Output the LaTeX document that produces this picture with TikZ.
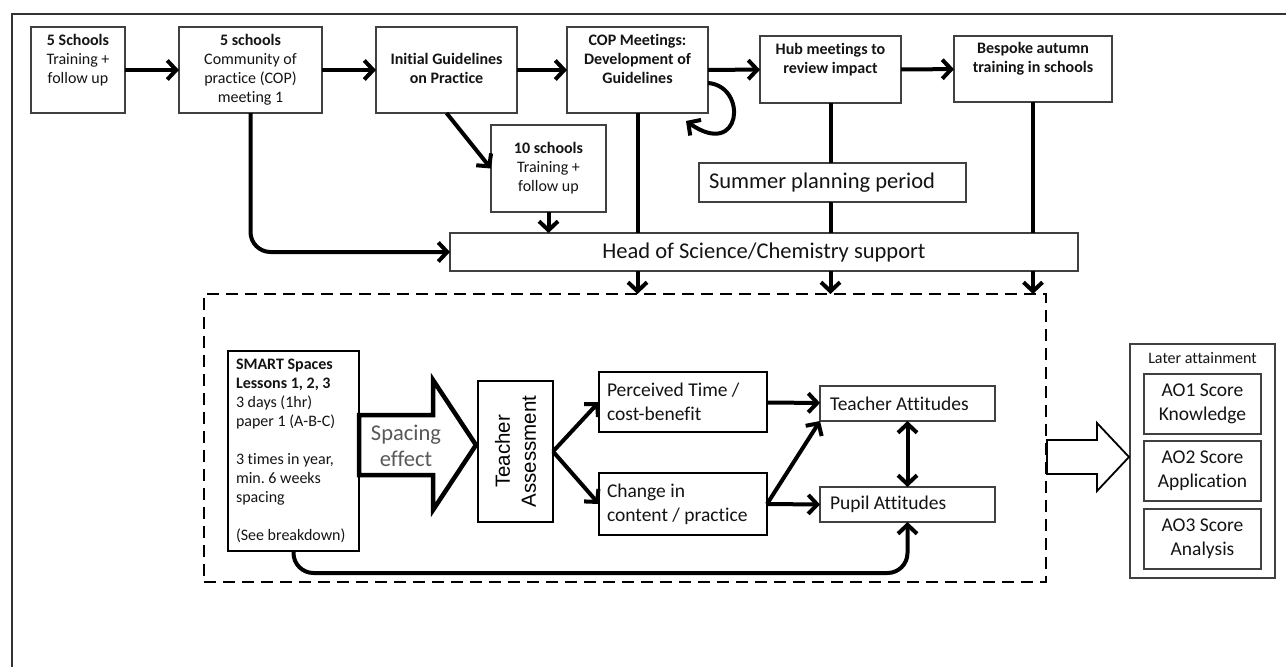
\documentclass[tikz,border=0pt]{standalone}
\usepackage{fontspec}
\setmainfont{Carlito}[Ligatures=NoCommon]
\newfontfamily\arialfont{Liberation Sans}
\usetikzlibrary{arrows.meta,calc}
\frenchspacing

\begin{document}
\begin{tikzpicture}[x=1pt,y=-1pt,
  every node/.style={inner sep=0pt, outer sep=0pt},
  sz/.style 2 args={minimum width=#1pt, minimum height=#2pt},
  box/.style={draw=black!75, line width=1.1pt, align=flush center, text=black!92},
  heavybox/.style={draw=black, line width=2pt, text=black!92},
  fsmall/.style={font=\fontsize{16}{19}\selectfont},
  fsmallbf/.style={font=\fontsize{16}{19}\selectfont\bfseries},
  fbig/.style={font=\fontsize{19.5}{24}\selectfont},
  fhuge/.style={font=\fontsize{22.5}{26}\selectfont},
  link/.style={line width=4pt},
  arr/.style={link, -{Straight Barb[length=9pt,width=19pt]}},
  dbl/.style={link, {Straight Barb[length=9pt,width=19pt]}-{Straight Barb[length=9pt,width=19pt]}},
  blockarrow/.style={fill=white, line join=miter},
]
\fill[white] (0,0) rectangle (1286,667);
\useasboundingbox (0,0) rectangle (1286,667);

% outer frame
\draw[line width=2pt, black!80] (12,667) -- (12,14) -- (1286,14);

% ---------------- top row ----------------
\node[box, fsmall, sz={94}{86}] (s5) at (78,70)
  {\strut\textbf{5 Schools}\\\strut Training +\\\strut follow up\\\strut};
\node[box, fsmall, sz={143}{86}] (cop1) at (250.5,70)
  {\strut\textbf{5 schools}\\\strut Community of\\\strut practice (COP)\\\strut meeting 1};
\node[box, fsmallbf, sz={141}{86}] (init) at (446.5,70)
  {\strut Initial Guidelines\\\strut on Practice};
\node[box, fsmallbf, sz={141}{86}] (copm) at (637.5,70)
  {\strut COP Meetings:\\\strut Development of\\\strut Guidelines\\\strut};
\node[box, fsmallbf, sz={141}{67}] (hub) at (830.5,69.5)
  {\strut Hub meetings to\\\strut review impact\\\strut};
\node[box, fsmallbf, sz={158}{66}] (besp) at (1033,69)
  {\strut Bespoke autumn\\\strut training in schools\\\strut};

\node[box, fsmall, sz={115}{87}] (ten) at (548.5,168.5)
  {\strut\textbf{10 schools}\\\strut Training +\\\strut follow up};

\node[box, fhuge, align=flush left, text width=247pt, inner xsep=10pt, minimum height=39pt]
  (summer) at (832.5,182.5) {Summer planning period};

\node[box, fhuge, sz={628}{38}] (head) at (764,252) {Head of Science/Chemistry support};

% top row connectors
\draw[arr] (s5) -- (cop1);
\draw[arr] (cop1) -- (init);
\draw[arr] (init) -- (copm);
\draw[arr] (copm) -- (hub);
\draw[arr] (hub) -- (besp);
\draw[arr] ($(copm.east)+(0,13)$) .. controls +(40,3) and +(56,39) .. ($(copm.south east)+(-22,8)$);
\draw[arr] (init.south) -- (ten.west);

% feeds into the support box
\draw[arr, rounded corners=20pt] (cop1.south) |- (head.west);
\draw[arr] (ten.south) -- (ten.south |- head.north);
\draw[link] (copm.south) -- (copm.south |- head.north);
\draw[link] (hub.south) -- (hub.south |- summer.north);
\draw[link] (hub.south |- summer.south) -- (hub.south |- head.north);
\draw[link] (besp.south) -- (besp.south |- head.north);

% ---------------- intervention ----------------
\node[draw=black, line width=2.5pt, dash pattern=on 12pt off 7pt, sz={842}{288}] (core) at (625,438) {};

\draw[arr] (copm.south |- head.south) -- (copm.south |- core.north);
\draw[arr] (hub.south |- head.south) -- (hub.south |- core.north);
\draw[arr] (besp.south |- head.south) -- (besp.south |- core.north);

\node[box, draw=black, fsmall, align=flush left, text width=115pt, inner xsep=8pt, minimum height=200pt]
  (smart) at (293.5,451)
  {\textbf{SMART Spaces}\\\textbf{Lessons 1, 2, 3}\\3 days (1hr)\\paper 1 (A-B-C)\\[19pt]3 times in year,\\min. 6 weeks\\spacing\\[19pt](See breakdown)};

% spacing effect block arrow
\draw[blockarrow, line width=4.5pt] (359,415) -- (433,415) -- (433,380) -- (476,445)
  -- (433,510) -- (433,475) -- (359,475) -- cycle;
\node[fhuge, text=black!65, align=flush center] (spc) at (406,446) {Spacing\\effect};

\node[heavybox, sz={75}{141}] (ta) at (515.5,451.5) {};
\node[rotate=90, font=\arialfont\fontsize{20.5}{26}\selectfont, align=flush center] (tat) at (ta) {Teacher\\Assessment};

\node[heavybox, fbig, align=flush left, text width=152pt, inner xsep=8pt, minimum height=60pt]
  (perc) at (683,402) {Perceived Time /\\cost-benefit};
\node[heavybox, fbig, align=flush left, text width=152pt, inner xsep=8pt, minimum height=62pt]
  (chg) at (683,504) {Change in\\content / practice};

\node[box, fbig, align=flush left, text width=155pt, inner xsep=10pt, minimum height=35pt]
  (tatt) at (907.5,403.5) {Teacher Attitudes};
\node[box, fbig, align=flush left, text width=155pt, inner xsep=10pt, minimum height=35pt]
  (pup) at (907.5,504.5) {Pupil Attitudes};

\draw[arr] (ta.east) -- (perc.west);
\draw[arr] (ta.east) -- (chg.west);
\draw[arr] (perc) -- (tatt);
\draw[arr] (chg.east) -- (tatt.south west);
\draw[arr] (chg.east) -- (pup.west);
\draw[dbl] (tatt) -- (pup);
\draw[arr, rounded corners=20pt] (smart.south) -- ++(0,22) -| (pup.south);

% ---------------- outcomes ----------------
\node[box, sz={145}{234}] (later) at (1202.5,461) {};
\node[fsmall, text=black!92] (latert) at (1202.5,358) {Later attainment};
\node[box, fbig, sz={117}{60}] (ao1) at (1202.5,404) {AO1 Score\\Knowledge};
\node[box, fbig, sz={117}{60}] (ao2) at (1202.5,471) {AO2 Score\\Application};
\node[box, fbig, sz={117}{60}] (ao3) at (1202.5,539) {AO3 Score\\Analysis};

\draw[blockarrow, line width=1.8pt] (1047,440) -- (1097,440) -- (1097,423) -- (1129,457)
  -- (1097,491) -- (1097,474) -- (1047,474) -- cycle;

\end{tikzpicture}
\end{document}
